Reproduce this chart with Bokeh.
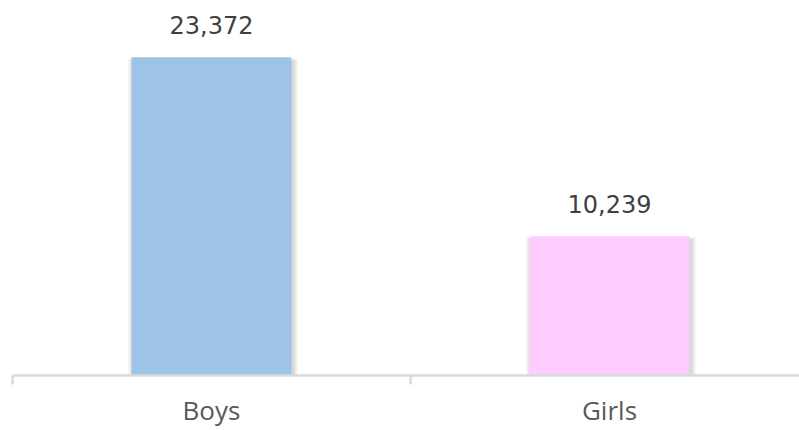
from bokeh.plotting import figure
from bokeh.models import Range1d, FixedTicker, LabelSet, ColumnDataSource
from bokeh.core.properties import value
from bokeh.embed import file_html
from bokeh.resources import INLINE

categories = ["Boys", "Girls"]
values = [23372, 10239]
colors = ["#9DC3E6", "#FFCCFF"]
labels = ["23,372", "10,239"]

W, H = 799, 430
BL, BB = 12, 54
x_end = (W - BL) / 398.0
y_end = 27550

p = figure(width=W, height=H, output_backend="svg", toolbar_location=None,
           x_range=Range1d(0, x_end), y_range=Range1d(0, y_end),
           min_border_left=BL, min_border_right=0, min_border_top=0, min_border_bottom=BB)
p.outline_line_color = None
p.grid.visible = False
p.yaxis.visible = False
p.background_fill_color = "white"
p.border_fill_color = "white"

xs = [i + 0.5 for i in range(len(categories))]
frame_w = W - BL
frame_h = H - BB
dxp = x_end / frame_w
dyp = y_end / frame_h

# soft shadow layers
for k in range(1, 6):
    p.vbar(x=[x + 1.5 * dxp for x in xs], top=[v - (4 - k * 0.6) * dyp for v in values],
           bottom=0, width=0.402 + 2 * k * dxp,
           fill_color="black", fill_alpha=0.03, line_color=None)

src = ColumnDataSource(dict(x=xs, top=values, color=colors, label=labels))
p.vbar(x="x", top="top", bottom=0, width=0.402, fill_color="color", line_color=None, source=src)

p.add_layout(LabelSet(x="x", y="top", text="label", source=src, y_offset=23,
                      text_align="center", text_baseline="alphabetic",
                      text_font=value("DejaVu Sans"), text_font_size="24px",
                      text_color="#404040"))

ax = p.xaxis[0]
ax.ticker = FixedTicker(ticks=xs, minor_ticks=[float(i) for i in range(len(categories) + 1)])
ax.major_label_overrides = {x: c for x, c in zip(xs, categories)}
ax.major_tick_line_color = None
ax.minor_tick_line_color = "#D9D9D9"
ax.minor_tick_line_width = 2.5
ax.minor_tick_out = 9
ax.minor_tick_in = 0
ax.axis_line_color = "#D9D9D9"
ax.axis_line_width = 2.5
ax.major_label_text_font = "Open Sans"
ax.major_label_text_font_size = "26px"
ax.major_label_text_color = "#595959"
ax.major_label_standoff = 7

open("out.html", "w").write(file_html(p, INLINE))
